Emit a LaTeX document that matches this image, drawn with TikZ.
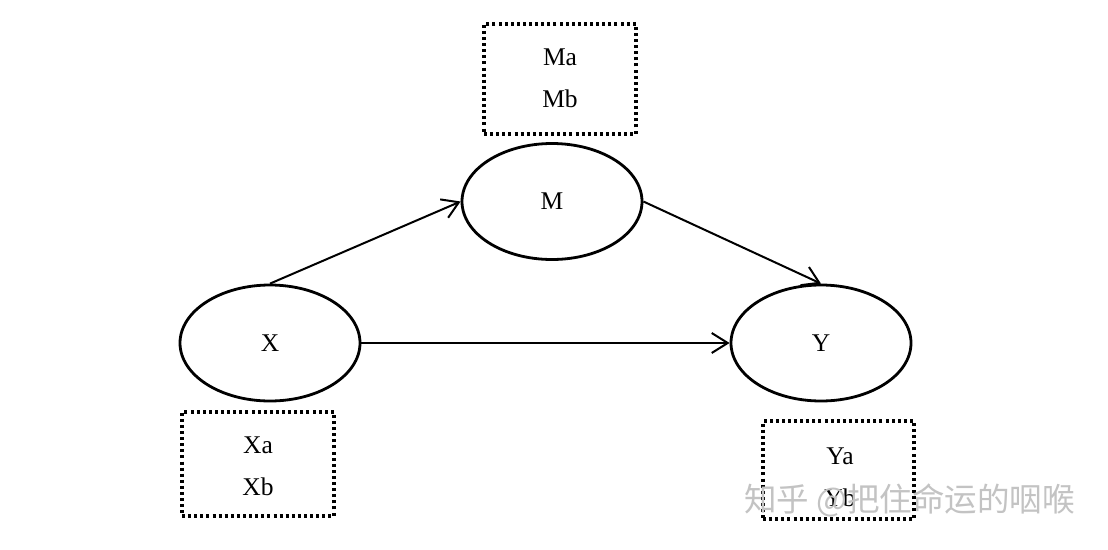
\documentclass[tikz,border=0pt]{standalone}
\usepackage{fontspec}
\setmainfont{Liberation Serif}
\newfontfamily\cjk{Noto Sans CJK SC}
\usetikzlibrary{shapes.geometric,arrows.meta}
\definecolor{wm}{RGB}{195,195,195}
\tikzset{
  var/.style={draw, line width=2.8pt, ellipse, minimum width=180pt, minimum height=116pt, inner sep=0pt, font=\fontsize{25.5}{30}\selectfont},
  dotbox/.style={draw, line width=3.2pt, dash pattern=on 3pt off 3.1pt},
  boxtext/.style={align=center, inner sep=0pt, font=\fontsize{25.5}{42}\selectfont},
  link/.style={line width=2pt, -{Straight Barb[length=16pt,width=20pt,line width=2pt]}},
}
\begin{document}
\begin{tikzpicture}[x=1pt,y=-1pt]
\useasboundingbox (0,0) rectangle (1108,549);
\fill[white] (0,0) rectangle (1108,549);
\node[var] (X) at (270,343) {X};
\node[var] (M) at (552,201.5) {M};
\node[var] (Y) at (821,343) {Y};
\node[dotbox, minimum width=152pt, minimum height=110pt] (Mbox) at (560,79) {};
\node[boxtext] (Mtext) at (560,78) {Ma\\Mb};
\node[dotbox, minimum width=152pt, minimum height=104pt] (Xbox) at (258,464) {};
\node[boxtext] (Xtext) at (258,466) {Xa\\Xb};
\node[dotbox, minimum width=151pt, minimum height=98pt] (Ybox) at (838.5,470) {};
\node[boxtext] (Ytext) at (840,477) {Ya\\Yb};
\draw[link] (X.north) -- (M.west);
\draw[link] (M.east) -- (Y.north);
\draw[link] (X.east) -- (Y.west);
\node[text=wm, font=\cjk\fontsize{32.5}{32.5}\selectfont, anchor=west, inner sep=0pt] (wmk) at (744,500) {知乎 @把住命运的咽喉};
\end{tikzpicture}
\end{document}
